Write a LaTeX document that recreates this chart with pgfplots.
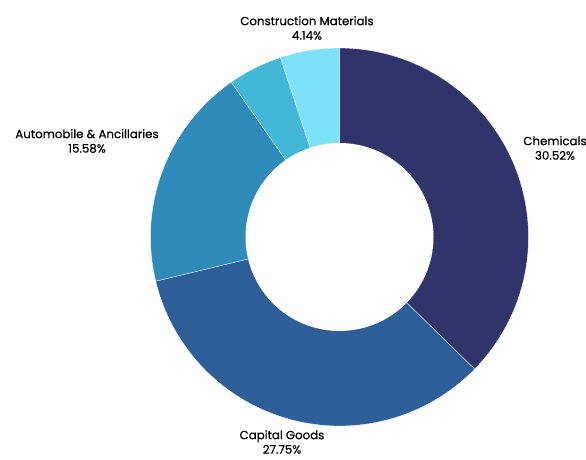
\documentclass[border=0pt]{standalone}
\usepackage{pgfplots}
\pgfplotsset{compat=1.18}
\usepackage{fontspec}
\setmainfont{Poppins}
\newfontfamily\labfont{Poppins}[FakeBold=0.4]

\definecolor{chem}{HTML}{31346B}
\definecolor{capg}{HTML}{2E5E98}
\definecolor{auto}{HTML}{2E8BBA}
\definecolor{othr}{HTML}{42B7D6}
\definecolor{cons}{HTML}{7DE1FA}

% slice values (%), clockwise from the top
\def\vChem{30.52}
\def\vCap{27.75}
\def\vAuto{15.58}
\def\vOther{3.80}
\def\vCons{4.14}
\pgfmathsetmacro\total{\vChem+\vCap+\vAuto+\vOther+\vCons}
\pgfmathsetmacro\aA{90}
\pgfmathsetmacro\aB{\aA-\vChem/\total*360}
\pgfmathsetmacro\aC{\aB-\vCap/\total*360}
\pgfmathsetmacro\aD{\aC-\vAuto/\total*360}
\pgfmathsetmacro\aE{\aD-\vOther/\total*360}
\pgfmathsetmacro\aF{\aE-\vCons/\total*360}

% centre and radii, in picture units
\def\cx{339.5}
\def\cy{222}
\def\R{189}
\def\r{94}

\begin{document}
\begin{tikzpicture}
\useasboundingbox (0,0) rectangle (586pt,459pt);
\begin{axis}[
    at={(0,0)}, anchor=south west,
    scale only axis, width=586pt, height=459pt,
    xmin=0, xmax=586, ymin=0, ymax=459,
    hide axis, clip=false,
    every axis plot/.append style={draw=white, line width=0.3pt, samples=90, variable=\t},
  ]
  \addplot[fill=chem, domain=\aB:\aA] ({\cx+\R*cos(\t)},{\cy+\R*sin(\t)}) -- (axis cs:\cx,\cy) -- cycle;
  \addplot[fill=capg, domain=\aC:\aB] ({\cx+\R*cos(\t)},{\cy+\R*sin(\t)}) -- (axis cs:\cx,\cy) -- cycle;
  \addplot[fill=auto, domain=\aD:\aC] ({\cx+\R*cos(\t)},{\cy+\R*sin(\t)}) -- (axis cs:\cx,\cy) -- cycle;
  \addplot[fill=othr, domain=\aE:\aD] ({\cx+\R*cos(\t)},{\cy+\R*sin(\t)}) -- (axis cs:\cx,\cy) -- cycle;
  \addplot[fill=cons, domain=\aF:\aE] ({\cx+\R*cos(\t)},{\cy+\R*sin(\t)}) -- (axis cs:\cx,\cy) -- cycle;
  % hole
  \addplot[fill=white, draw=none, domain=0:360, samples=150] ({\cx+\r*cos(\t)},{\cy+\r*sin(\t)}) -- cycle;

  \begin{scope}[every node/.style={align=center, font=\labfont\fontsize{11.8}{14.5}\selectfont, text=black, inner sep=0pt}]
    \node at (axis cs:555,311) {Chemicals\\30.52\%};
    \node at (axis cs:282,17) {Capital Goods\\27.75\%};
    \node at (axis cs:87,318) {Automobile \& Ancillaries\\15.58\%};
    \node at (axis cs:307,431) {Construction Materials\\4.14\%};
  \end{scope}
\end{axis}
\end{tikzpicture}
\end{document}
